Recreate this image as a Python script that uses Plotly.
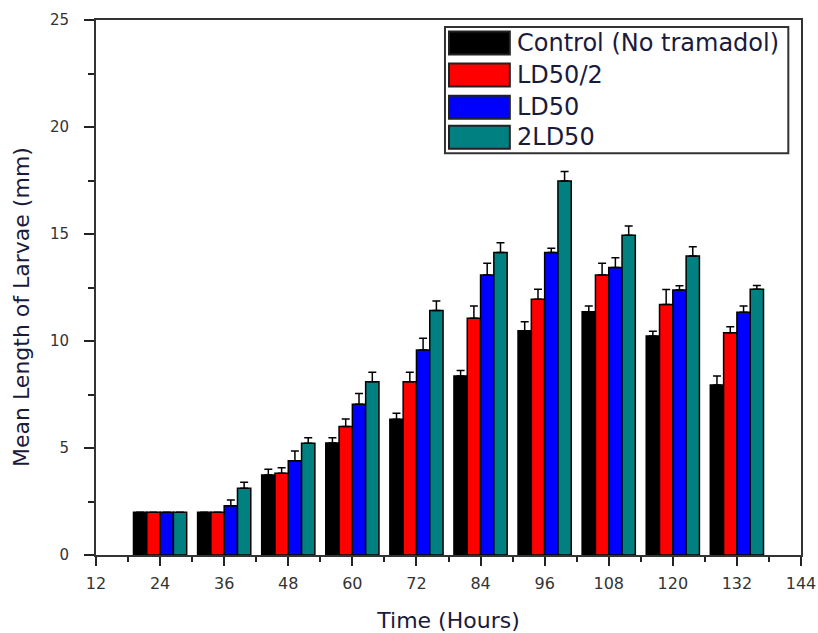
import plotly.graph_objects as go

hours = [24, 36, 48, 60, 72, 84, 96, 108, 120, 132]
series_names = ["Control (No tramadol)", "LD50/2", "LD50", "2LD50"]
colors = ["#000000", "#ff0000", "#0000ff", "#008080"]

control = [2.0, 2.0, 3.74, 5.23, 6.34, 8.36, 10.48, 11.37, 10.23, 7.94]
control_err = [0.0, 0.0, 0.27, 0.25, 0.28, 0.26, 0.42, 0.27, 0.23, 0.42]
ld50_half = [2.0, 2.0, 3.82, 6.0, 8.1, 11.06, 11.95, 13.08, 11.71, 10.39]
ld50_half_err = [0.0, 0.0, 0.26, 0.36, 0.44, 0.57, 0.47, 0.55, 0.7, 0.28]
ld50 = [2.0, 2.3, 4.41, 7.04, 9.58, 13.08, 14.14, 13.44, 12.38, 11.34]
ld50_err = [0.0, 0.27, 0.45, 0.51, 0.55, 0.55, 0.19, 0.45, 0.2, 0.3]
two_ld50 = [2.0, 3.12, 5.22, 8.1, 11.42, 14.14, 17.48, 14.94, 13.97, 12.42]
two_ld50_err = [0.0, 0.28, 0.26, 0.44, 0.45, 0.45, 0.44, 0.43, 0.44, 0.17]

values = [control, ld50_half, ld50, two_ld50]
errors = [control_err, ld50_half_err, ld50_err, two_ld50_err]

x_ticks = [12, 24, 36, 48, 60, 72, 84, 96, 108, 120, 132, 144]
y_ticks = [0, 5, 10, 15, 20, 25]

fig = go.Figure()
for name, col, v, e in zip(series_names, colors, values, errors):
    fig.add_trace(go.Bar(
        x=hours, y=v, name=name,
        marker=dict(color=col, line=dict(color="#000000", width=1.5)),
        error_y=dict(type="data", array=e, symmetric=False, arrayminus=[0] * len(e),
                     color="#000000", thickness=1.5, width=4),
        showlegend=False,
    ))

font_family = "DejaVu Sans, Verdana, sans-serif"

# custom legend (paper coordinates)
lx0, lx1 = 0.495, 0.982
ly_top, ly_bot = 0.987, 0.751
row_centers = [0.957, 0.897, 0.837, 0.781]
shapes = [dict(type="rect", xref="paper", yref="paper", x0=lx0, x1=lx1, y0=ly_bot, y1=ly_top,
               line=dict(color="#333333", width=2), fillcolor="white", layer="above")]
annotations = []
for name, col, yc in zip(series_names, colors, row_centers):
    shapes.append(dict(type="rect", xref="paper", yref="paper",
                       x0=0.5007, x1=0.587, y0=yc - 0.0215, y1=yc + 0.0215,
                       fillcolor=col, line=dict(color="#222222", width=2), layer="above"))
    annotations.append(dict(xref="paper", yref="paper", x=0.595, y=yc, text=name,
                            showarrow=False, xanchor="left", yanchor="middle",
                            font=dict(family=font_family, size=24, color="#1a1a3a")))

# y-axis title (placed as annotation to match the reference offset)
annotations.append(dict(xref="paper", yref="paper", x=-0.105, y=0.4636,
                        text="Mean Length of Larvae (mm)", textangle=-90, showarrow=False,
                        xanchor="center", yanchor="middle",
                        font=dict(family=font_family, size=22, color="#1a1a3a")))

fig.update_layout(
    width=818, height=633,
    margin=dict(l=96, r=17, t=20, b=78, autoexpand=False),
    paper_bgcolor="white", plot_bgcolor="white",
    barmode="group", bargap=0.17, bargroupgap=0,
    font=dict(family=font_family, color="#333333"),
    shapes=shapes, annotations=annotations,
    xaxis=dict(
        range=[12, 144], tickmode="array", tickvals=x_ticks, ticktext=[str(t) for t in x_ticks],
        ticks="outside", ticklen=9, tickwidth=1.5, tickcolor="#222222",
        minor=dict(dtick=6, tick0=12, ticks="outside", ticklen=5, tickwidth=1.5, tickcolor="#222222"),
        showline=True, linecolor="#333333", linewidth=2, mirror=True,
        showgrid=False, zeroline=False, automargin=False,
        tickfont=dict(size=16, color="#333333"),
        ticklabelstandoff=4,
        title=dict(text="Time (Hours)", font=dict(size=22, color="#1a1a3a"), standoff=22),
    ),
    yaxis=dict(
        range=[0, 25], tickmode="array", tickvals=y_ticks,
        ticks="outside", ticklen=10, tickwidth=1.5, tickcolor="#222222",
        minor=dict(dtick=2.5, tick0=0, ticks="outside", ticklen=6, tickwidth=1.5, tickcolor="#222222"),
        showline=True, linecolor="#333333", linewidth=2, mirror=True,
        showgrid=False, zeroline=False, automargin=False,
        tickfont=dict(size=15, color="#333333"),
        ticklabelstandoff=12,
    ),
)

fig.write_html("out.html", config={"displayModeBar": False},
               post_script="document.body.style.margin='0';document.body.style.overflow='hidden';")
